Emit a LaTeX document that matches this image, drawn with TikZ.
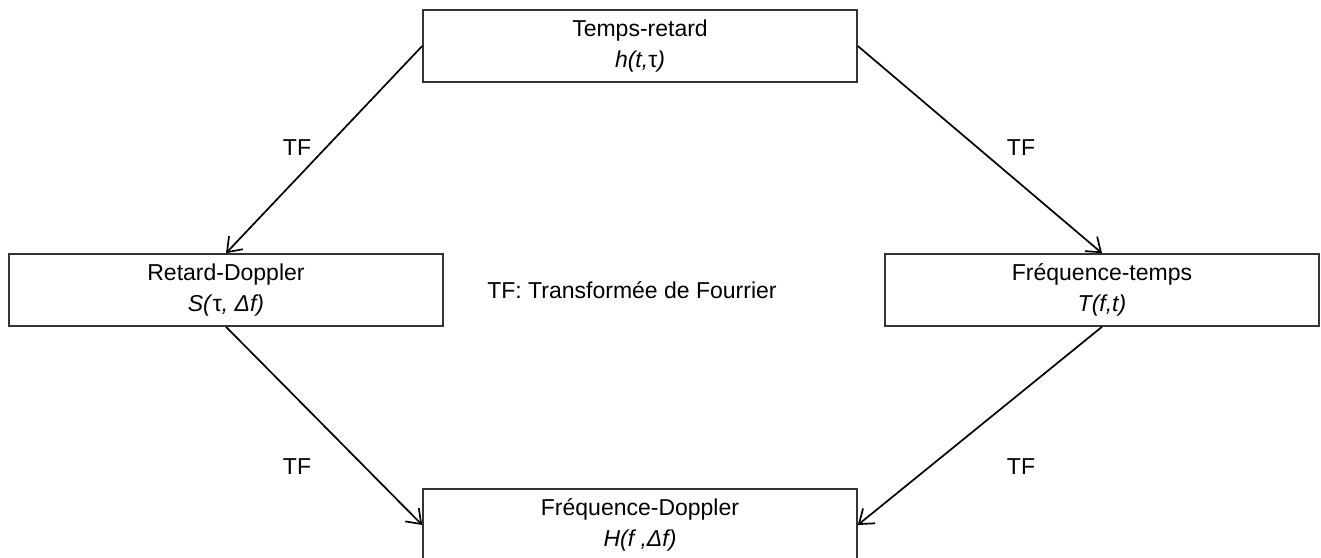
\documentclass[tikz,border=0pt]{standalone}
\usepackage{fontspec}
\setmainfont{Liberation Sans}
\usetikzlibrary{arrows.meta}
\begin{document}
\begin{tikzpicture}[x=1pt,y=-1pt,
  box/.style={draw=black!80, line width=1.6pt, rectangle, minimum width=434pt, minimum height=72pt, inner sep=0pt, align=center, font=\fontsize{23}{31}\selectfont},
  lbl/.style={font=\fontsize{23}{26}\selectfont, inner sep=0pt},
  conn/.style={line width=1.7pt, -{Straight Barb[length=13pt,width=19pt,line width=1.7pt]}}]
\useasboundingbox (0,0) rectangle (1321,557);
\begin{scope}
\clip (0,0) rectangle (1321,557);
\node[box] (tr) at (640,46) {Temps-retard\\\textit{h(t,}τ\textit{)}};
\node[box] (rd) at (226,290) {Retard-Doppler\\\textit{S(}τ\textit{, Δf)}};
\node[box] (ft) at (1102,290) {Fréquence-temps\\\textit{T(f,t)}};
\node[box] (fd) at (640,525) {Fréquence-Doppler\\\textit{H(f ,Δf)}};
\end{scope}
\draw[conn] (tr.west) -- (rd.north);
\draw[conn] (tr.east) -- (ft.north);
\draw[conn] (rd.south) -- (fd.west);
\draw[conn] (ft.south) -- (fd.east);
\node[lbl] (l1) at (297,148) {TF};
\node[lbl] (l2) at (1021,148) {TF};
\node[lbl] (l3) at (297,467) {TF};
\node[lbl] (l4) at (1021,467) {TF};
\node[lbl] (leg) at (632,290) {TF: Transformée de Fourrier};
\end{tikzpicture}
\end{document}
